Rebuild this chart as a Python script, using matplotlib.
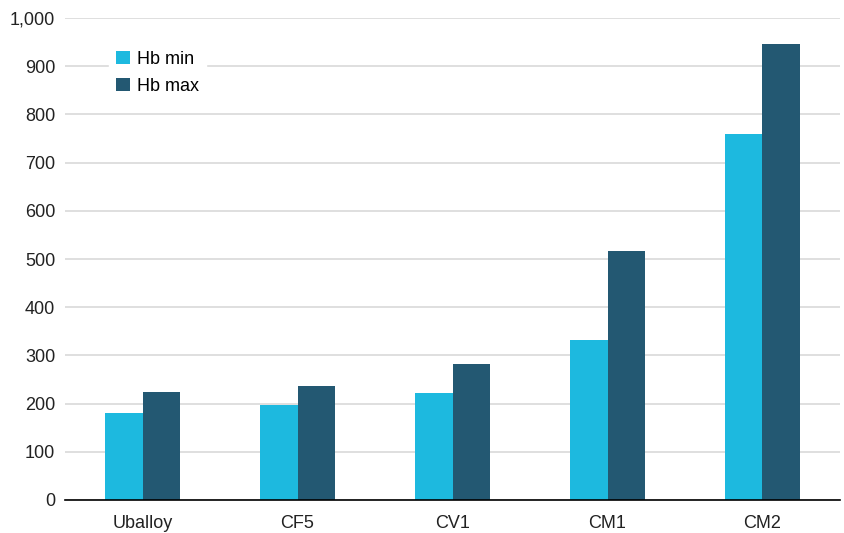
import numpy as np
from matplotlib import pyplot as plt

categories = ["Uballoy", "CF5", "CV1", "CM1", "CM2"]
hb_min = [181, 198, 222, 332, 759]
hb_max = [224, 237, 282, 517, 946]

plt.rcParams['font.family'] = ['Liberation Sans', 'DejaVu Sans']

fig = plt.figure(figsize=(8.45, 5.33), dpi=100)
ax = fig.add_axes([65 / 845, 1 - 500 / 533, 775 / 845, 482 / 533])

x = np.arange(len(categories))
w = 0.245
ax.bar(x - w / 2, hb_min, width=w, color="#1DB9DF", label="Hb min", zorder=3)
ax.bar(x + w / 2, hb_max, width=w, color="#235872", label="Hb max", zorder=3)

ax.set_xlim(-0.5, len(categories) - 0.5)
ax.set_ylim(0, 1000)
ax.set_yticks(range(0, 1001, 100))
ax.set_yticklabels([f"{v:,}" for v in range(0, 1001, 100)])
ax.set_xticks(x)
ax.set_xticklabels(categories)
ax.tick_params(axis="both", length=0, labelsize=13, colors="#222222")
ax.tick_params(axis="x", pad=11)
ax.tick_params(axis="y", pad=7)
ax.grid(axis="y", color="#d9d9d9", linewidth=1.2, zorder=0)

for s in ["top", "right", "left"]:
    ax.spines[s].set_visible(False)
ax.spines["bottom"].set_color("black")
ax.spines["bottom"].set_linewidth(1.2)
ax.spines["bottom"].set_zorder(4)

leg = ax.legend(loc="upper left", bbox_to_anchor=(0.045, 0.965), frameon=True,
                fontsize=13, handlelength=0.75, handleheight=0.75,
                handletextpad=0.4, labelspacing=0.55, borderpad=0.4)
leg.get_frame().set_edgecolor("white")
leg.get_frame().set_facecolor("white")
leg.get_frame().set_alpha(1)

fig.savefig("out.png", dpi=100)
